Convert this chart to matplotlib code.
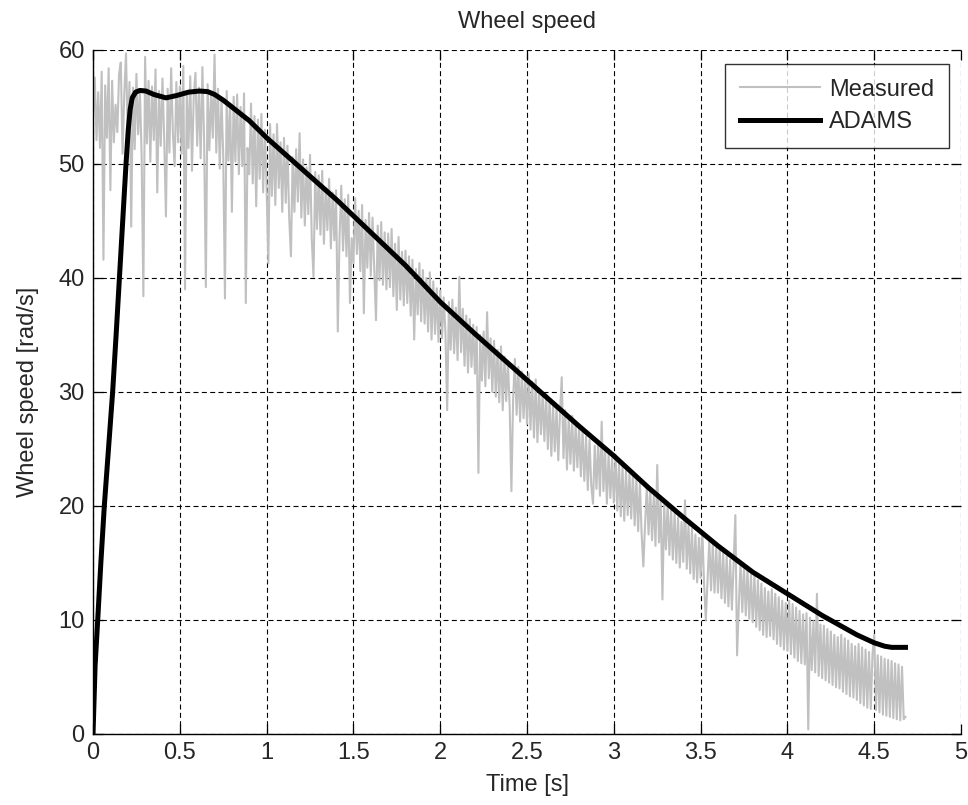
import numpy as np
import matplotlib
matplotlib.use("Agg")
import matplotlib.pyplot as plt

plt.rcParams['font.family'] = ['Liberation Sans', 'DejaVu Sans']

# ---------------- data ----------------
title = "Wheel speed"
xlabel = "Time [s]"
ylabel = "Wheel speed [rad/s]"
series_names = ["Measured", "ADAMS"]

x_ticks = [0, 0.5, 1, 1.5, 2, 2.5, 3, 3.5, 4, 4.5, 5]
x_tick_labels = ["0", "0.5", "1", "1.5", "2", "2.5", "3", "3.5", "4", "4.5", "5"]
y_ticks = [0, 10, 20, 30, 40, 50, 60]
y_tick_labels = ["0", "10", "20", "30", "40", "50", "60"]

# ADAMS simulation
adams_t = [0.0, 0.012, 0.027, 0.045, 0.065, 0.089, 0.113, 0.133, 0.152, 0.171,
           0.19, 0.203, 0.214, 0.226, 0.245, 0.27, 0.305, 0.35, 0.42, 0.48,
           0.55, 0.612, 0.66, 0.70, 0.75, 0.8, 0.9, 1.0, 1.2, 1.4,
           1.6, 1.8, 2.0, 2.2, 2.4, 2.6, 2.8, 3.0, 3.2, 3.4,
           3.6, 3.8, 4.0, 4.2, 4.4, 4.5, 4.56, 4.6, 4.68]
adams_v = [0.0, 6.0, 10.0, 15.0, 20.0, 25.0, 30.0, 35.0, 40.0, 45.0,
           50.0, 53.0, 54.8, 55.8, 56.3, 56.45, 56.4, 56.1, 55.8, 56.0,
           56.3, 56.4, 56.35, 56.1, 55.6, 55.0, 53.8, 52.3, 49.6, 46.9,
           44.0, 41.1, 37.9, 35.1, 32.4, 29.7, 27.0, 24.4, 21.6, 19.0,
           16.5, 14.2, 12.3, 10.4, 8.7, 8.0, 7.7, 7.6, 7.6]

meas_dt = 0.01
measured = [
    54.2, 57.6, 52.1, 56.3, 51.4, 58.1, 41.6, 56.9, 52.3, 58.4,
    47.7, 57.3, 51.9, 55.2, 52.8, 57.9, 58.9, 50.9, 56.1, 59.7,
    52.4, 57.2, 44.5, 56.7, 51.3, 57.9, 52.6, 56.4, 50.7, 38.4,
    59.4, 51.8, 57.3, 50.2, 56.8, 52.1, 58.3, 47.5, 56.4, 51.6,
    57.5, 52.2, 45.4, 56.6, 51.0, 58.4, 52.7, 49.8, 57.2, 51.9,
    56.8, 50.9, 58.6, 39.0, 56.3, 51.4, 57.7, 49.4, 55.9, 58.0,
    51.6, 56.7, 50.5, 58.5, 52.0, 39.2, 57.0, 51.2, 56.1, 52.3,
    59.6, 51.0, 56.6, 49.6, 55.7, 50.8, 38.2, 56.4, 50.3, 55.3,
    45.8, 55.9, 50.2, 56.1, 49.1, 55.0, 49.8, 56.2, 37.8, 51.4,
    49.1, 55.3, 48.3, 54.2, 46.3, 53.9, 48.7, 54.4, 47.5, 53.0,
    47.8, 41.3, 53.5, 47.2, 52.6, 46.4, 53.5, 47.9, 51.9, 45.8,
    52.3, 46.6, 51.6, 45.3, 41.9, 50.6, 45.8, 51.3, 46.7, 52.7,
    45.3, 50.4, 44.6, 49.7, 45.6, 50.8, 43.4, 40.1, 49.3, 44.3,
    49.0, 43.8, 49.4, 43.0, 47.9, 44.2, 48.7, 42.6, 47.5, 43.3,
    47.7, 35.3, 43.6, 48.1, 42.4, 46.9, 41.9, 47.3, 37.8, 43.5,
    41.3, 47.0, 42.1, 45.9, 40.6, 46.4, 36.9, 45.1, 40.9, 45.7,
    40.2, 45.3, 40.8, 36.3, 44.6, 39.8, 44.9, 39.4, 44.0, 39.0,
    43.9, 39.2, 44.3, 38.4, 43.0, 37.2, 43.6, 38.1, 42.3, 37.6,
    42.4, 37.8, 41.9, 36.7, 41.6, 34.6, 40.8, 36.8, 41.3, 36.2,
    40.7, 36.0, 40.0, 35.3, 40.5, 34.6, 39.7, 35.1, 39.1, 34.4,
    38.9, 34.7, 38.3, 35.2, 28.4, 37.9, 33.7, 38.1, 33.4, 37.4,
    32.8, 40.1, 33.5, 37.3, 32.3, 36.7, 31.7, 36.4, 32.2, 35.9,
    31.6, 35.7, 22.9, 35.0, 31.0, 35.3, 30.5, 37.0, 31.2, 34.7,
    30.0, 34.5, 29.6, 33.7, 29.1, 34.0, 28.4, 33.1, 29.2, 32.7,
    28.7, 21.3, 29.4, 32.9, 28.0, 32.2, 27.4, 31.8, 27.7, 31.3,
    27.2, 31.6, 26.7, 30.9, 26.0, 31.1, 25.6, 30.2, 26.3, 29.9,
    25.7, 29.8, 25.0, 29.4, 24.4, 28.9, 24.8, 28.6, 24.0, 28.2,
    31.3, 24.2, 28.4, 23.2, 27.7, 23.7, 27.9, 23.1, 27.2, 23.4,
    27.0, 22.6, 26.6, 22.2, 26.1, 21.4, 25.8, 21.8, 20.2, 25.3,
    21.5, 25.5, 20.9, 27.4, 21.3, 24.9, 20.2, 24.6, 20.7, 24.2,
    20.3, 24.5, 19.6, 23.8, 19.1, 23.5, 18.7, 23.1, 19.2, 22.8,
    18.9, 23.0, 18.3, 22.4, 17.8, 22.1, 17.6, 14.7, 18.4, 21.7,
    17.5, 21.5, 17.0, 20.9, 16.5, 23.6, 16.8, 20.5, 11.8, 20.1,
    16.2, 20.3, 15.7, 19.7, 15.3, 19.4, 15.0, 19.0, 14.6, 18.6,
    15.1, 20.5, 14.5, 18.3, 14.1, 18.0, 13.6, 17.5, 13.3, 17.2,
    13.7, 17.7, 13.1, 10.0, 13.4, 17.0, 12.6, 16.7, 12.4, 16.3,
    12.4, 16.4, 11.9, 15.9, 11.5, 15.6, 11.2, 15.3, 10.9, 14.9,
    19.2, 6.9, 11.3, 15.1, 10.7, 14.7, 10.4, 14.4, 10.1, 14.0,
    9.8, 13.9, 9.4, 13.5, 9.1, 13.2, 8.7, 12.8, 8.5, 12.5,
    8.6, 12.7, 8.3, 12.3, 7.9, 12.0, 7.7, 11.7, 7.4, 11.5,
    7.3, 11.7, 7.0, 11.4, 6.7, 11.1, 6.4, 10.8, 6.2, 10.5,
    6.1, 10.6, 0.4, 10.2, 5.6, 9.9, 5.4, 12.3, 5.1, 9.6,
    4.9, 9.5, 4.7, 9.2, 4.5, 9.0, 4.3, 8.7, 4.1, 8.5,
    4.0, 8.7, 3.7, 8.4, 3.5, 8.2, 3.3, 7.9, 3.2, 7.7,
    3.0, 7.9, 2.7, 7.6, 2.5, 7.4, 2.3, 7.2, 2.2, 7.0,
    8.7, 2.1, 6.9, 1.9, 6.8, 1.7, 6.6, 1.6, 6.5, 1.5,
    6.4, 1.4, 6.2, 1.3, 6.1, 1.2, 5.9, 1.3, 1.5,
]
meas_t = np.arange(len(measured)) * meas_dt

# ---------------- figure ----------------
FS = 17
TXT = '#262626'
fig = plt.figure(figsize=(9.68, 8.05), dpi=100)
ax = fig.add_axes([0.0961, 0.0882, 0.8967, 0.8497])

ax.plot(meas_t, measured, color='#c0c0c0', lw=1.5, label=series_names[0], zorder=2)
ax.plot(adams_t, adams_v, color='black', lw=3.6, label=series_names[1], zorder=3)

ax.set_xlim(0, 5)
ax.set_ylim(0, 60)
ax.set_xticks(x_ticks)
ax.set_xticklabels(x_tick_labels)
ax.set_yticks(y_ticks)
ax.set_yticklabels(y_tick_labels)

ax.grid(True, color='black', linestyle=(0, (4.5, 3)), linewidth=0.8)
ax.set_axisbelow(True)
ax.tick_params(direction='in', length=7, width=0.9, labelsize=FS,
               top=True, right=True, colors='black', labelcolor=TXT, pad=6)
ax.spines['top'].set_visible(False)
ax.spines['right'].set_visible(False)
for s in ('left', 'bottom'):
    ax.spines[s].set_linewidth(1.0)

ax.set_title(title, fontsize=FS, color=TXT, pad=16)
ax.set_xlabel(xlabel, fontsize=FS, color=TXT, labelpad=7)
ax.set_ylabel(ylabel, fontsize=FS, color=TXT, labelpad=14)

leg = ax.legend(loc='upper right', bbox_to_anchor=(0.986, 0.9795), fontsize=FS,
                frameon=True, fancybox=False, handlelength=3.4, handletextpad=0.38,
                borderpad=0.62, labelspacing=0.45, borderaxespad=0.0)
leg.get_frame().set_edgecolor('black')
leg.get_frame().set_linewidth(1.0)
for txt in leg.get_texts():
    txt.set_color(TXT)

fig.savefig('out.png', dpi=100, facecolor='white')
